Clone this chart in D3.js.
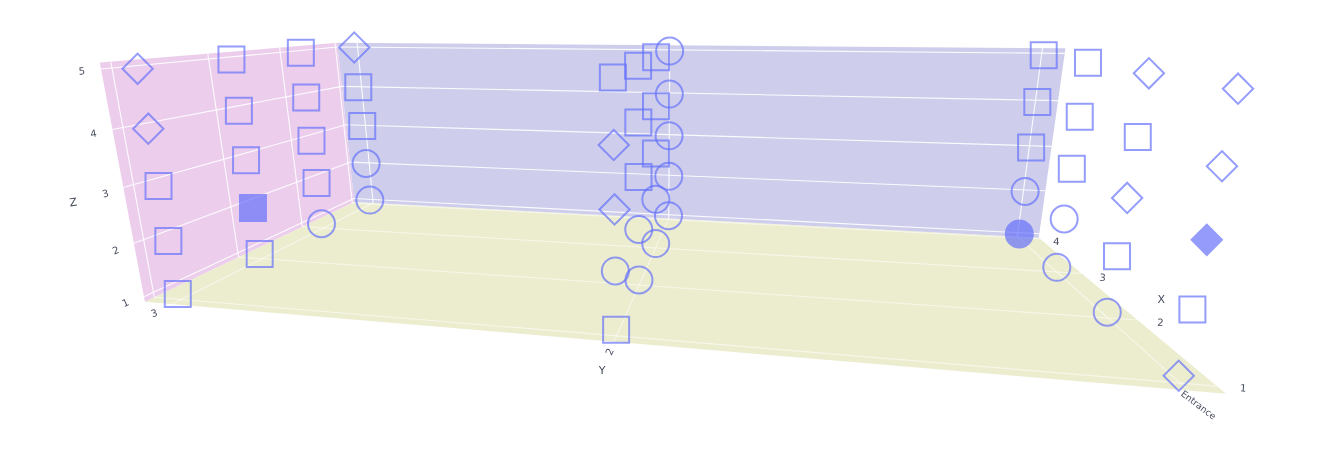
<!DOCTYPE html><html><head><meta charset="utf-8"><script src="https://cdnjs.cloudflare.com/ajax/libs/d3/7.8.5/d3.min.js"></script>
<style>body{margin:0;background:#fff}text{font-family:"DejaVu Sans",Verdana,sans-serif;fill:#454b5c}</style></head><body><svg id="c" width="1339" height="468"></svg><script>
// ---- data -------------------------------------------------------------
const xTicks=[1,2,3,4];
const yCategories=["Entrance","2","3"];
const zTicks=[1,2,3,4,5];
// symbols, listed per y category, then x, then z = 1..5  (s square, d diamond, c circle; capital = filled)
const symbolsEntrance=[["d","s","D","d","d"],["c","s","d","s","d"],["c","c","s","s","s"],["C","c","s","s","s"]];
const symbolsY2=[["s","c","d","d","s"],["c","c","s","s","s"],["c","c","s","s","s"],["c","c","c","c","c"]];
const symbolsY3=[["s","s","s","d","d"],["s","S","s","s","s"],["c","s","s","s","s"],["c","c","s","s","d"]];
const symbolGrids=[symbolsEntrance,symbolsY2,symbolsY3];
// ---- scene ------------------------------------------------------------
const xRange=[0.905,4.044],yRange=[-0.056,2.07],zRange=[0.905,5.104];
const sceneCamera=[196.8019,-581.77536,-20.063601,1273.3442,1.889624,2.8577994,-91.965095,552.5906,0.25814642,0.18110585,-0.030806886];
const markerCamera=[194.9025,-581.8060,-20.03317,1268.125,1.834753,1.03223,-90.58457,548.6954,0.2550442,0.1735779,-0.03083862];
const yIndex=d3.scalePoint().domain(yCategories).range([0,2]);
const project=(c,x,y,z)=>{const d=c[8]*x+c[9]*y+c[10]*z+1;return[(c[0]*x+c[1]*y+c[2]*z+c[3])/d,(c[4]*x+c[5]*y+c[6]*z+c[7])/d];};
const S=(x,y,z)=>project(sceneCamera,x,y,z);
const [xa,xb]=xRange,[ya,yb]=yRange,[za,zb]=zRange;
const svg=d3.select('#c');
svg.append('defs').append('filter').attr('id','soft').append('feGaussianBlur').attr('stdDeviation',0.4);
const scene=svg.append('g').attr('filter','url(#soft)');
const poly=(pts,fill)=>scene.append('polygon').attr('points',pts.map(p=>p.join(',')).join(' ')).attr('fill',fill);
poly([S(xa,ya,za),S(xb,ya,za),S(xb,yb,za),S(xa,yb,za)],'rgb(236,237,207)');
poly([S(xb,ya,za),S(xb,yb,za),S(xb,yb,zb),S(xb,ya,zb)],'rgb(206,206,236)');
poly([S(xa,yb,za),S(xb,yb,za),S(xb,yb,zb),S(xa,yb,zb)],'rgb(236,206,236)');
const wallSegs=[],floorSegs=[];
zTicks.forEach(z=>{wallSegs.push([S(xa,yb,z),S(xb,yb,z)],[S(xb,yb,z),S(xb,ya,z)]);});
xTicks.forEach(x=>{wallSegs.push([S(x,yb,za),S(x,yb,zb)]);floorSegs.push([S(x,yb,za),S(x,ya,za)]);});
yCategories.forEach(c=>{const y=yIndex(c);wallSegs.push([S(xb,y,za),S(xb,y,zb)]);floorSegs.push([S(xb,y,za),S(xa,y,za)]);});
const drawSegs=(segs,op)=>scene.append('g').selectAll('line').data(segs).join('line')
 .attr('x1',d=>d[0][0]).attr('y1',d=>d[0][1]).attr('x2',d=>d[1][0]).attr('y2',d=>d[1][1])
 .attr('stroke','#fff').attr('stroke-width',1.1).attr('stroke-opacity',op);
drawSegs(wallSegs,.9);drawSegs(floorSegs,.55);
// ---- markers ----------------------------------------------------------
const markers=[];
symbolGrids.forEach((g,yi)=>g.forEach((col,xi)=>col.forEach((s,zi)=>markers.push({x:xTicks[xi],y:yCategories[yi],z:zTicks[zi],s}))));
const shape={s:d3.symbol().type(d3.symbolSquare).size(676)(),c:d3.symbol().type(d3.symbolCircle).size(573)(),d:d3.symbol().type(d3.symbolSquare).size(460)()};
const markerColor='#636efa';
scene.append('g').selectAll('path').data(markers).join('path')
 .attr('d',d=>shape[d.s.toLowerCase()])
 .attr('transform',d=>{const p=project(markerCamera,d.x,yIndex(d.y),d.z);return `translate(${p[0]},${p[1]})`+(d.s.toLowerCase()==='d'?' rotate(45)':'');})
 .attr('fill',d=>d.s===d.s.toUpperCase()?markerColor:'none')
 .attr('stroke',markerColor).attr('stroke-width',2).attr('opacity',.68);
// ---- labels -----------------------------------------------------------
const fontSize=10;
const upright=a=>{let t=a;while(t>90)t-=180;while(t<=-90)t+=180;return t;};
const ang=(a,b)=>upright(Math.atan2(b[1]-a[1],b[0]-a[0])*180/Math.PI);
const labels=svg.append('g').attr('filter','url(#soft)');
const label=(txt,p,dx,dy,rot,size)=>labels.append('text').attr('text-anchor','middle').attr('dominant-baseline','central').attr('font-size',size||fontSize)
 .attr('transform',`translate(${p[0]+dx},${p[1]+dy}) rotate(${rot})`).text(txt);
const zNudge=[[-18.5,6],[-18,7],[-18,6],[-19,4],[-19,2]];
zTicks.forEach((z,i)=>label(z,S(xa,yb,z),zNudge[i][0],zNudge[i][1],ang(S(xa,yb,z),S(xb,yb,z))));
const xNudge=[[26.5,2],[23,2.5],[21,4],[16,2.5]];
xTicks.forEach((x,i)=>label(x,S(x,ya,za),xNudge[i][0],xNudge[i][1],ang(S(x,yb,za),S(x,ya,za))));
const yNudge=[[10,14],[-4.5,10],[-18,9]];
const ySize=[9.2,10,10],yTilt=[-5,0,8];
yCategories.forEach((c,i)=>{const y=yIndex(c);label(c,S(xa,y,za),yNudge[i][0],yNudge[i][1],ang(S(xa,y,za),S(xb,y,za))+yTilt[i],ySize[i]);});
label('X',S(2,ya,za),24,-20,0,11);
label('Y',S(xa,1,za),-12,29,0,11);
label('Z',S(xa,yb,3),-50,15,-8,11);
</script></body></html>
